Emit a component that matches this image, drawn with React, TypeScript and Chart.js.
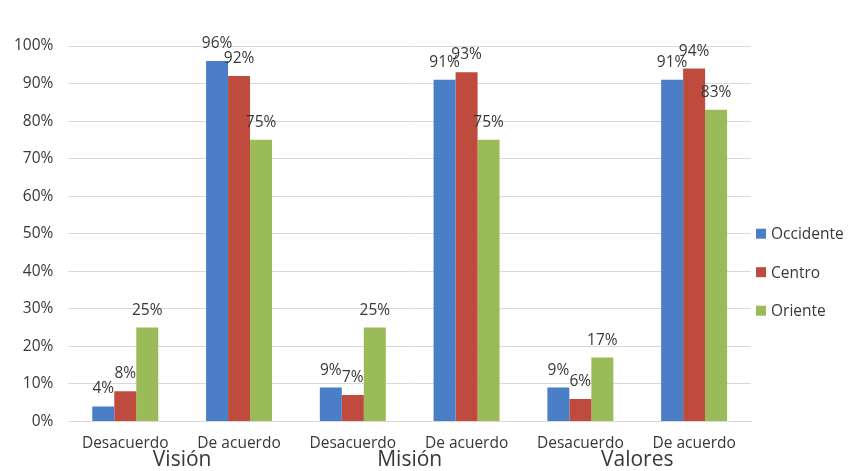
import React, { useEffect, useRef } from 'react';
import { Chart, registerables } from 'chart.js';

Chart.register(...registerables);

const categories = ['Desacuerdo', 'De acuerdo', 'Desacuerdo', 'De acuerdo', 'Desacuerdo', 'De acuerdo'];
const groups = ['Visión', 'Misión', 'Valores'];
const seriesNames = ['Occidente', 'Centro', 'Oriente'];
const occidente = [4, 96, 9, 91, 9, 91];
const centro = [8, 92, 7, 93, 6, 94];
const oriente = [25, 75, 25, 75, 17, 83];
const colors = ['#4A7EC6', '#BE4B3E', '#9BBB59'];

const TEXT = '#383838';
const FONT = '"Open Sans", sans-serif';
const FS = 15.5;

const valueLabels = {
  id: 'valueLabels',
  afterDatasetsDraw(chart: any) {
    const ctx = chart.ctx;
    ctx.save();
    ctx.font = `${FS}px ${FONT}`;
    ctx.fillStyle = TEXT;
    ctx.textAlign = 'center';
    ctx.textBaseline = 'alphabetic';
    chart.data.datasets.forEach((ds: any, i: number) => {
      const meta = chart.getDatasetMeta(i);
      meta.data.forEach((el: any, j: number) => {
        ctx.fillText(ds.data[j] + '%', el.x, el.y - 13);
      });
    });
    ctx.restore();
  },
};

// Second-level category labels (groups), centred under each pair of categories
const groupLabels = {
  id: 'groupLabels',
  afterDraw(chart: any) {
    const { ctx, chartArea } = chart;
    const xs = chart.scales.x;
    const per = categories.length / groups.length;
    ctx.save();
    ctx.font = `21px ${FONT}`;
    ctx.fillStyle = TEXT;
    ctx.textAlign = 'center';
    ctx.textBaseline = 'middle';
    groups.forEach((g, k) => {
      const a = xs.getPixelForTick(k * per);
      const b = xs.getPixelForTick(k * per + per - 1);
      ctx.fillText(g, (a + b) / 2, chartArea.bottom + 39);
    });
    ctx.restore();
  },
};

const sideLegend = {
  id: 'sideLegend',
  afterDraw(chart: any) {
    const { ctx, chartArea } = chart;
    const mid = (chartArea.top + chartArea.bottom) / 2;
    ctx.save();
    ctx.font = `${FS}px ${FONT}`;
    ctx.textAlign = 'left';
    ctx.textBaseline = 'middle';
    chart.data.datasets.forEach((ds: any, i: number) => {
      const y = mid + i * 38.5;
      ctx.fillStyle = ds.backgroundColor;
      ctx.fillRect(chartArea.right + 5, y - 5, 10, 10);
      ctx.fillStyle = TEXT;
      ctx.fillText(ds.label, chartArea.right + 20, y + 1);
    });
    ctx.restore();
  },
};

export default function App() {
  const ref = useRef<HTMLCanvasElement | null>(null);
  useEffect(() => {
    document.body.style.margin = '0';
    const canvas = ref.current!;
    const chart = new Chart(canvas, {
      type: 'bar',
      data: {
        labels: categories,
        datasets: [occidente, centro, oriente].map((d, i) => ({
          label: seriesNames[i],
          data: d,
          backgroundColor: colors[i],
          borderWidth: 0,
          categoryPercentage: 0.58,
          barPercentage: 1,
        })),
      },
      options: {
        animation: false,
        responsive: false,
        devicePixelRatio: 1,
        layout: { padding: { top: 46, left: -1, right: 111, bottom: 5 } },
        font: { family: FONT },
        plugins: {
          tooltip: { enabled: false },
          legend: { display: false },
        },
        scales: {
          y: {
            min: 0,
            max: 100,
            ticks: {
              stepSize: 10,
              color: TEXT,
              padding: 15,
              font: { size: FS, family: FONT },
              callback: (v: any) => v + '%',
            },
            grid: { color: '#D9D9D9', drawTicks: false },
            border: { display: false },
          },
          x: {
            ticks: {
              color: TEXT,
              padding: 13,
              maxRotation: 0,
              autoSkip: false,
              font: { size: FS, family: FONT },
            },
            grid: { display: false, drawTicks: false },
            border: { display: true, color: '#D9D9D9' },
          },
        },
      },
      plugins: [valueLabels, groupLabels, sideLegend],
    } as any);
    return () => chart.destroy();
  }, []);
  return (
    <div style={{ width: 862, height: 471, background: '#fff' }}>
      <canvas ref={ref} width={862} height={471} />
    </div>
  );
}
